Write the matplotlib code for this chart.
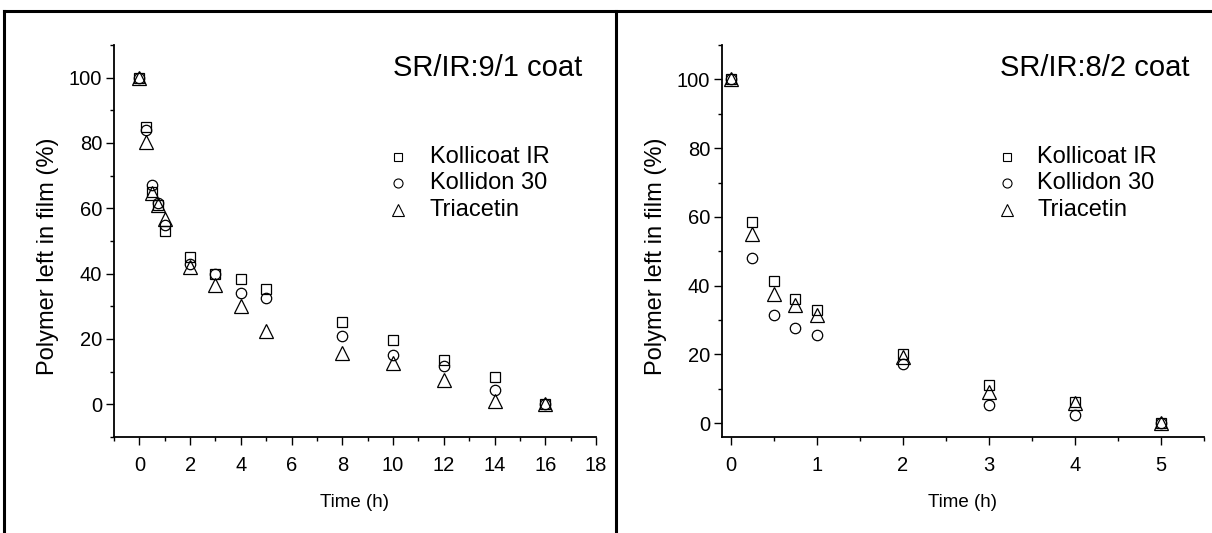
import matplotlib
matplotlib.use("Agg")
import matplotlib.pyplot as plt
from matplotlib.lines import Line2D
from matplotlib.ticker import MultipleLocator

plt.rcParams['font.family'] = ['Liberation Sans', 'DejaVu Sans']

# panel 1: SR/IR 9/1 coat
t1 = [0, 0.25, 0.5, 0.75, 1, 2, 3, 4, 5, 8, 10, 12, 14, 16]
kollicoat1 = [100, 85, 65, 61, 53, 45, 40, 38.5, 35.3, 25.2, 19.6, 13.7, 8.4, 0]
kollidon1 = [100, 84, 67, 61.5, 55, 43, 40, 34.2, 32.5, 20.8, 15.2, 11.6, 4.5, 0]
triacetin1 = [100, 80.4, 64.6, 61, 56.7, 42, 36.6, 30.2, 22.3, 15.7, 12.6, 7.5, 0.9, 0]

# panel 2: SR/IR 8/2 coat
t2 = [0, 0.25, 0.5, 0.75, 1, 2, 3, 4, 5]
kollicoat2 = [100, 58.4, 41.3, 36, 32.9, 20, 11.1, 6.3, 0]
kollidon2 = [100, 48, 31.5, 27.8, 25.7, 17.2, 5.3, 2.4, 0]
triacetin2 = [100, 54.9, 37.5, 34.5, 31.5, 19.4, 9.2, 5.8, 0]

labels = ['Kollicoat IR', 'Kollidon 30', 'Triacetin']
markers = ['s', 'o', '^']
sizes = [7.5, 7.5, 9.5]

W, H = 1212, 533
fig = plt.figure(figsize=(W / 100, H / 100), dpi=100)

def px_axes(x0, x1, ytop, ybot):
    return fig.add_axes([x0 / W, 1 - ybot / H, (x1 - x0) / W, (ybot - ytop) / H])

ax1 = px_axes(114, 596, 45, 437)
ax2 = px_axes(722, 1204, 45, 437)

def draw(ax, t, series, title, xlim, ylim, xmaj, xmin, leg_x, leg_text_x):
    for y, m, s in zip(series, markers, sizes):
        ax.plot(t, y, linestyle='none', marker=m, markersize=s,
                markerfacecolor='none', markeredgecolor='black', markeredgewidth=0.9)
    ax.set_xlim(*xlim)
    ax.set_ylim(*ylim)
    ax.xaxis.set_major_locator(MultipleLocator(xmaj))
    ax.xaxis.set_minor_locator(MultipleLocator(xmin))
    ax.yaxis.set_major_locator(MultipleLocator(20))
    ax.yaxis.set_minor_locator(MultipleLocator(10))
    for side in ['top', 'right']:
        ax.spines[side].set_visible(False)
    for side in ['left', 'bottom']:
        ax.spines[side].set_linewidth(1.3)
    ax.tick_params(which='major', direction='out', length=5.5, width=1.0, labelsize=14.5)
    ax.tick_params(which='minor', direction='out', length=3.2, width=1.0)
    ax.tick_params(axis='x', which='major', pad=8)
    ax.tick_params(axis='y', which='major', pad=3)
    ax.set_xlabel('Time (h)', fontsize=13.5, labelpad=14)
    ax.set_ylabel('Polymer left in film (%)', fontsize=17, labelpad=7)
    ax.yaxis.label.set_y(0.46)
    ax.text(1 - 14 / 482, 1 - 23 / 392, title, transform=ax.transAxes,
            ha='right', va='center', fontsize=21)

    # legend drawn by hand: small hollow symbols and text
    leg_sizes = [6, 6.5, 8]
    for i, (lab, m, s) in enumerate(zip(labels, markers, leg_sizes)):
        yy = 156.7 + i * 26.5
        fig.add_artist(Line2D([leg_x / W], [1 - yy / H], marker=m, markersize=s,
                              markerfacecolor='none', markeredgecolor='black',
                              markeredgewidth=0.8, linestyle='none'))
        fig.text(leg_text_x / W, 1 - yy / H, lab, fontsize=17, ha='left', va='center')

draw(ax1, t1, [kollicoat1, kollidon1, triacetin1], 'SR/IR:9/1 coat',
     (-1, 18), (-10, 110), 2, 1, 398, 430)
draw(ax2, t2, [kollicoat2, kollidon2, triacetin2], 'SR/IR:8/2 coat',
     (-0.1, 5.5), (-4, 110), 1, 0.5, 1007, 1037)

# table frame around the panels
frame = dict(color='black', linewidth=2.2, transform=fig.transFigure)
fig.add_artist(Line2D([4 / W, 1], [1 - 11 / H, 1 - 11 / H], **frame))
fig.add_artist(Line2D([4 / W, 4 / W], [0, 1 - 11 / H], **frame))
fig.add_artist(Line2D([616 / W, 616 / W], [0, 1 - 11 / H], **frame))

fig.savefig('out.png', dpi=100)
